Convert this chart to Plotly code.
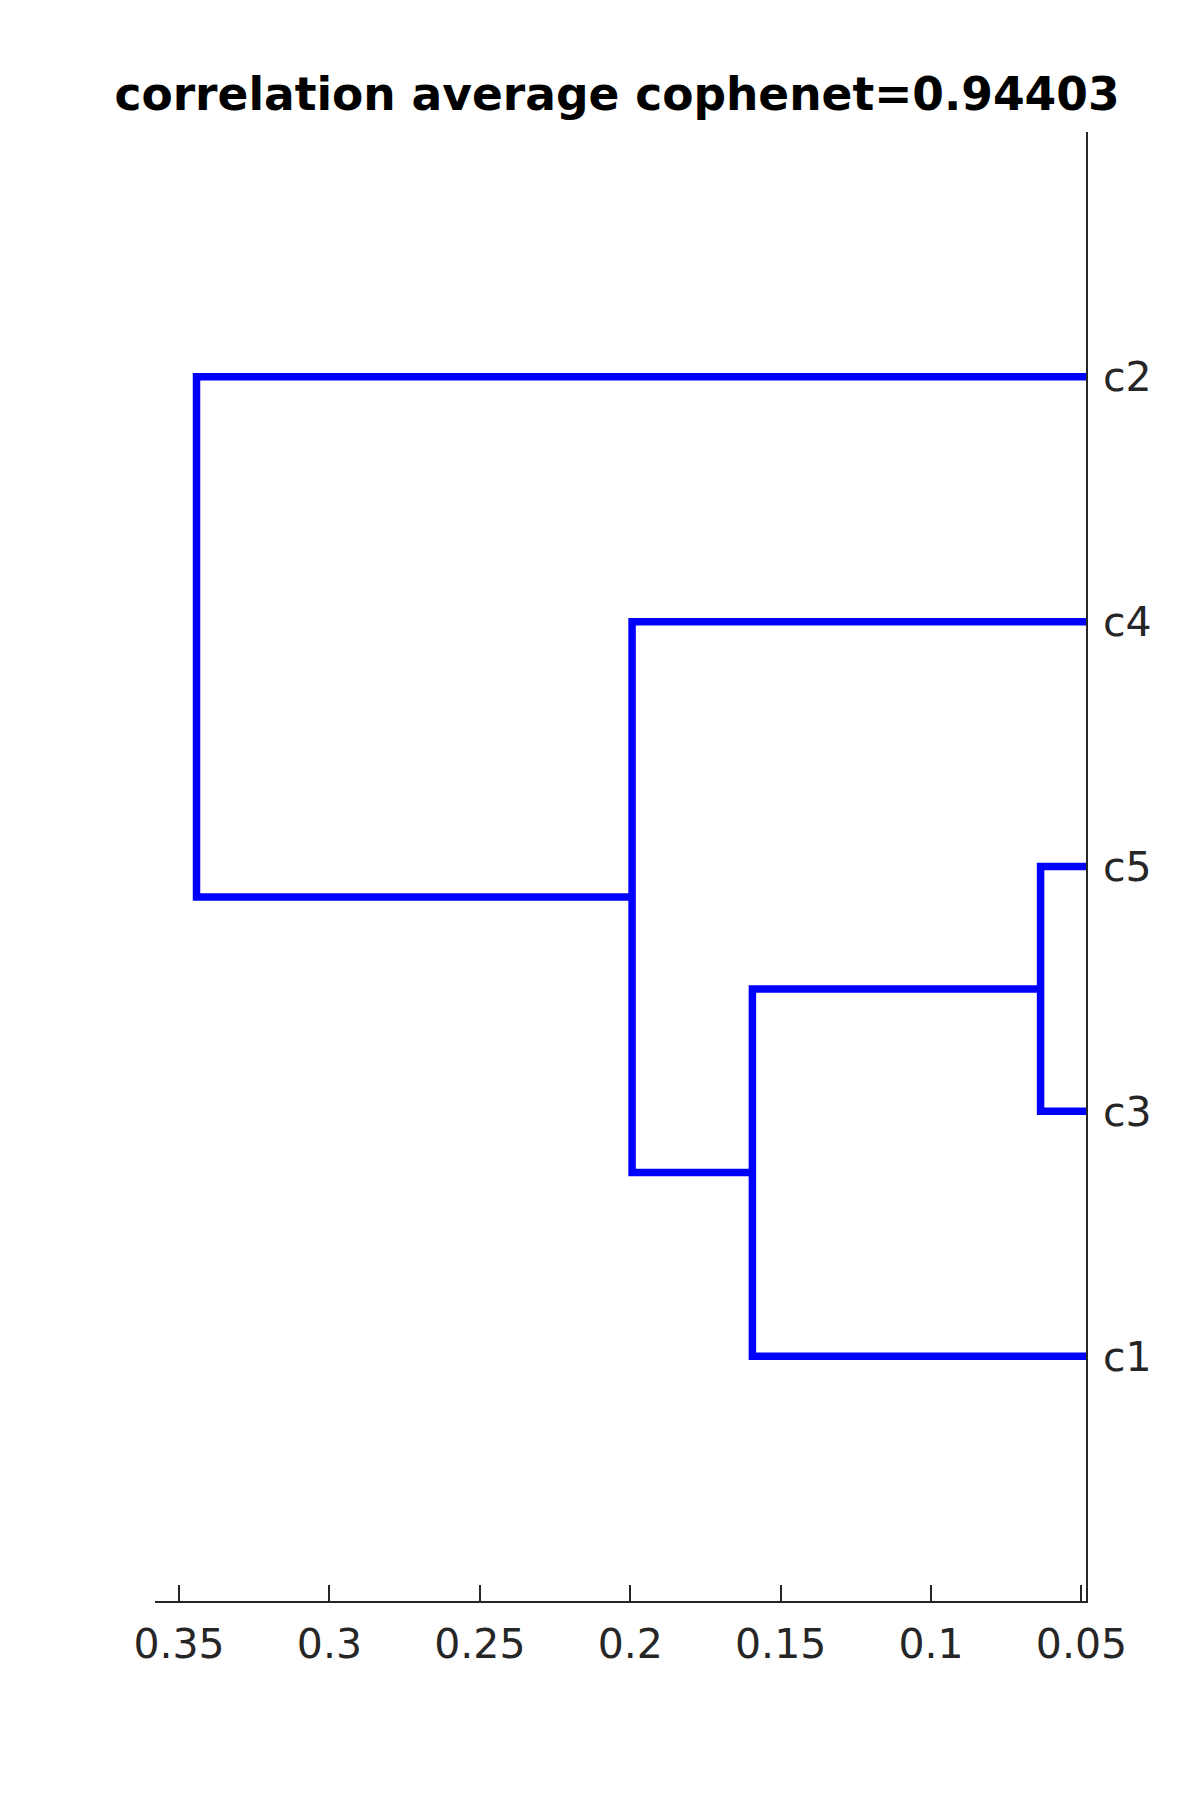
import plotly.graph_objects as go

# ---- data ----
leaf_labels = ["c1", "c2", "c3", "c4", "c5"]
# linkage rows (MATLAB Z style): child A, child B (1-based; >5 means cluster), height
link_a = [3, 1, 4, 2]
link_b = [5, 6, 7, 8]
link_h = [0.0636, 0.1594, 0.1994, 0.3442]
leaf_order = [1, 3, 5, 4, 2]          # bottom to top
x_ticks = [0.05, 0.1, 0.15, 0.2, 0.25, 0.3, 0.35]
x_ticktext = ["0.05", "0.1", "0.15", "0.2", "0.25", "0.3", "0.35"]
title_text = "correlation average cophenet=0.94403"

n = len(leaf_labels)
pos = {leaf: i + 1 for i, leaf in enumerate(leaf_order)}
height = {leaf: 0.0 for leaf in range(1, n + 1)}

xs, ys = [], []
for k, (a, b, h) in enumerate(zip(link_a, link_b, link_h)):
    ya, yb = pos[a], pos[b]
    xs += [height[a], h, h, height[b], None]
    ys += [ya, ya, yb, yb, None]
    node = n + k + 1
    pos[node] = (ya + yb) / 2
    height[node] = h

fig = go.Figure()
fig.add_trace(go.Scatter(
    x=xs, y=ys, mode="lines",
    line=dict(color="#0000FF", width=7.5),
    hoverinfo="skip", showlegend=False,
))

axis_col = "#262626"
fig.update_layout(
    width=1200, height=1800,
    paper_bgcolor="white", plot_bgcolor="white",
    margin=dict(l=147, r=122, t=124, b=207),
    font=dict(family="DejaVu Sans", color=axis_col, size=41),
    title=dict(
        text="<b>" + title_text + "</b>",
        x=(617 - 8) / 1200, xref="container", y=1 - 86 / 1800, yref="container",
        xanchor="center", yanchor="middle",
        font=dict(family="DejaVu Sans", size=45.5, color="black"),
    ),
    xaxis=dict(
        range=[0.358, 0.0485],
        tickvals=x_ticks, ticktext=x_ticktext,
        ticks="inside", ticklen=16, tickwidth=1.7, tickcolor=axis_col,
        showline=True, linecolor=axis_col, linewidth=1.7,
        showgrid=False, zeroline=False,
        ticklabelstandoff=6,
        tickfont=dict(size=41, color=axis_col),
    ),
    yaxis=dict(
        range=[0, 6], side="right",
        tickvals=list(range(1, n + 1)),
        ticktext=[leaf_labels[l - 1] for l in leaf_order],
        ticks="", showline=True, linecolor=axis_col, linewidth=1.7,
        showgrid=False, zeroline=False,
        ticklabelstandoff=7,
        tickfont=dict(size=41, color=axis_col),
    ),
)

fig.write_html("out.html")
